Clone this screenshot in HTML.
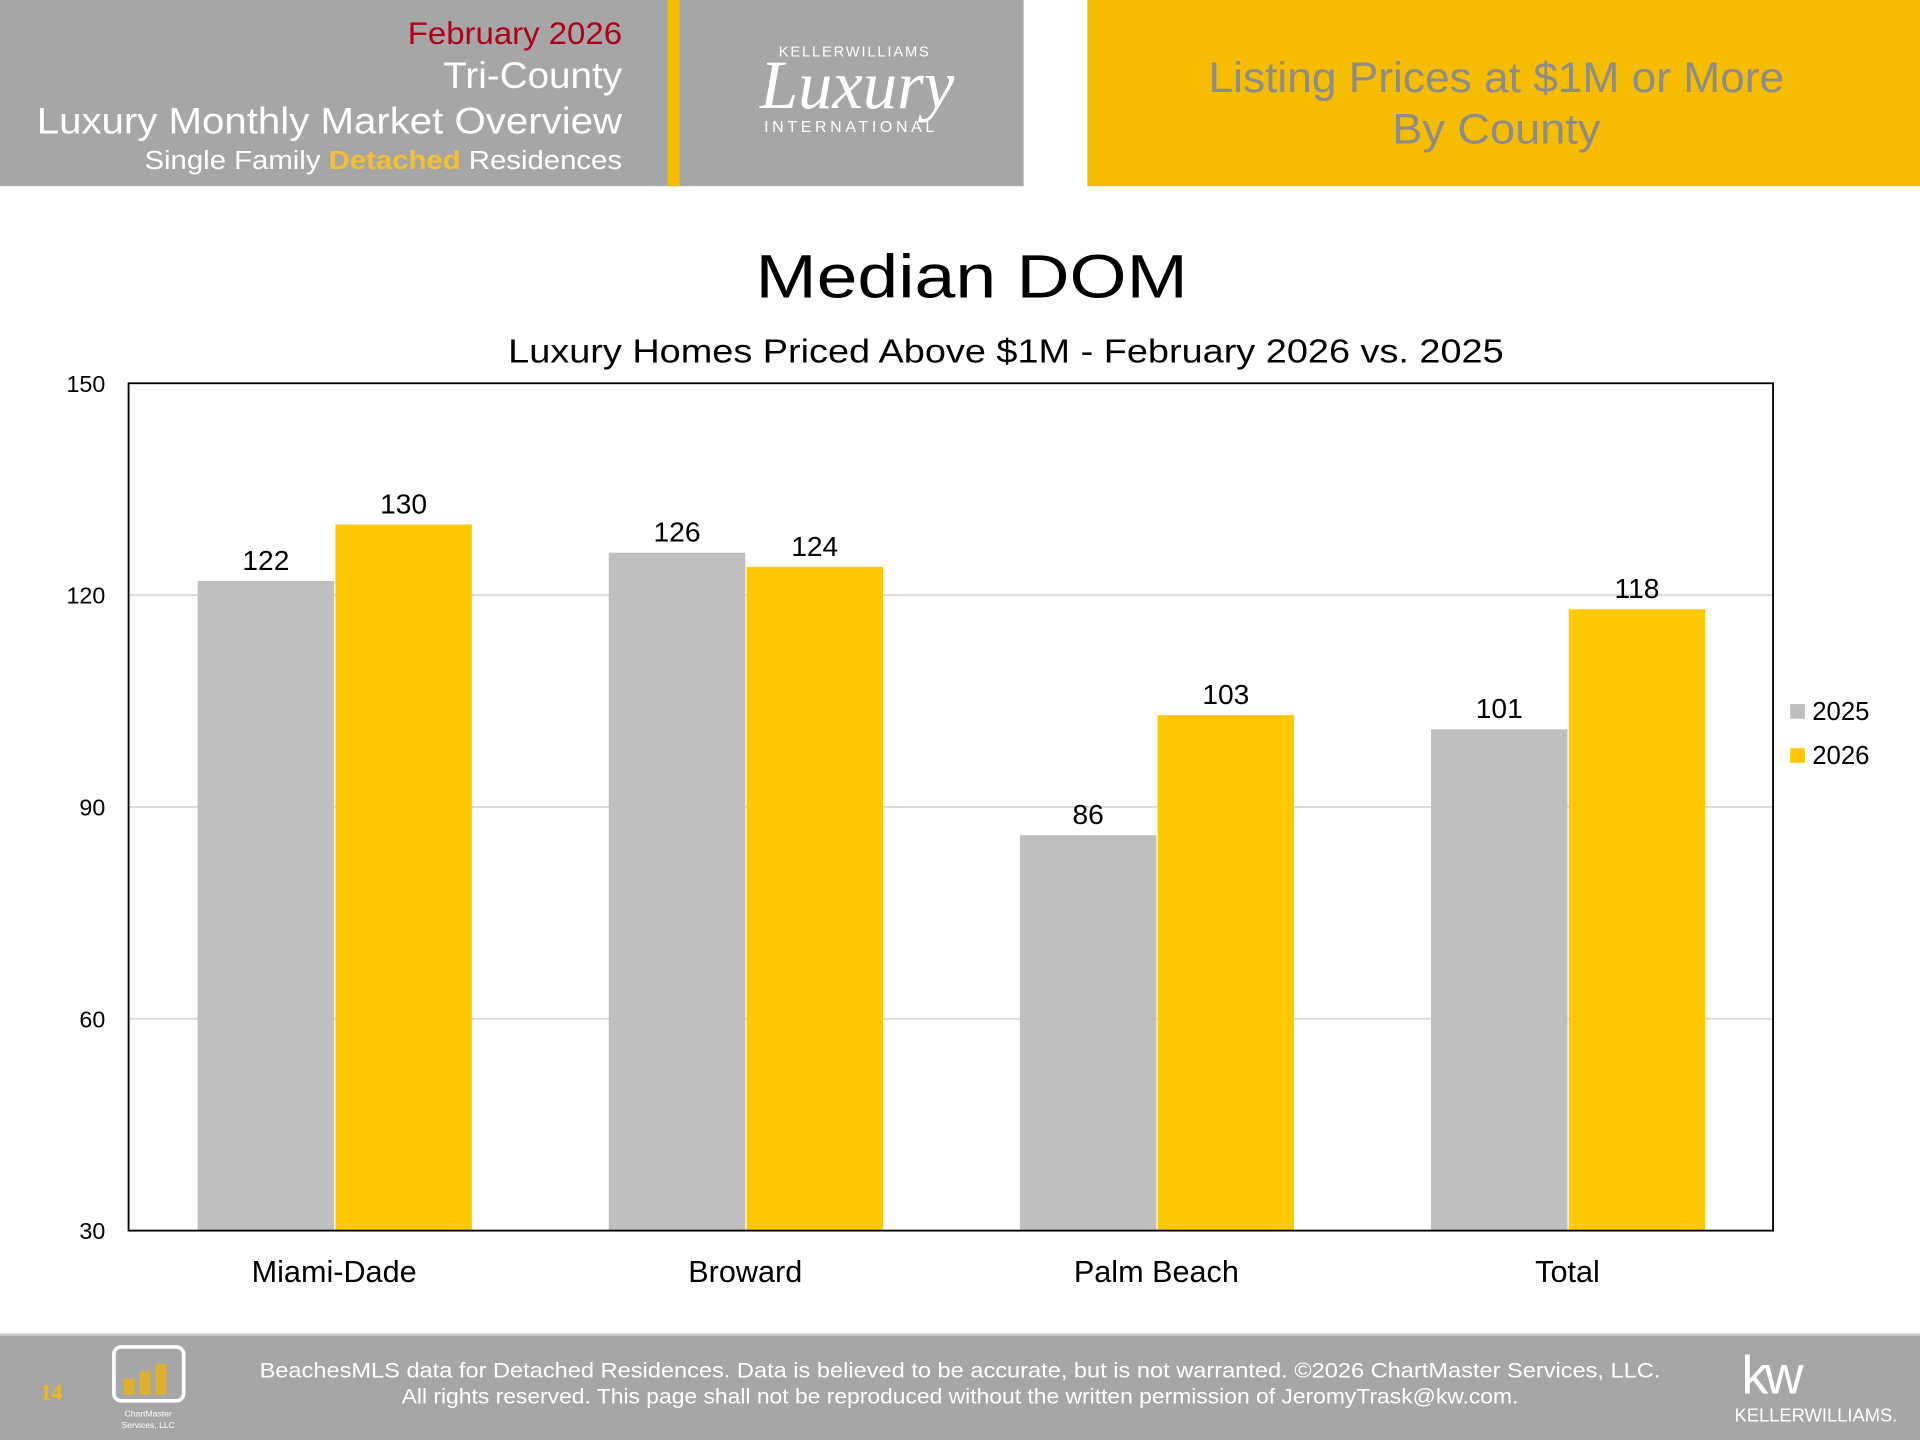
<!DOCTYPE html>
<html><head><meta charset="utf-8"><style>
html,body{margin:0;padding:0;background:#fff;}
svg{display:block;font-family:"Liberation Sans","DejaVu Sans",sans-serif;}
</style></head><body>
<svg width="1920" height="1440" viewBox="0 0 1568 1176" xmlns="http://www.w3.org/2000/svg">
<g>
<rect x="0" y="0" width="836" height="152" fill="#a6a6a6"/>
<rect x="545" y="0" width="10" height="152" fill="#f5bc00"/>
<rect x="888" y="0" width="680" height="152" fill="#f5bc00"/>
<text x="333" y="36" textLength="175" lengthAdjust="spacingAndGlyphs" font-size="26" fill="#b00018">February 2026</text>
<text x="362" y="72" textLength="146" lengthAdjust="spacingAndGlyphs" font-size="30" fill="#fff">Tri-County</text>
<text x="30" y="109" textLength="478" lengthAdjust="spacingAndGlyphs" font-size="30" fill="#fff">Luxury Monthly Market Overview</text>
<text x="118" y="138" textLength="390" lengthAdjust="spacingAndGlyphs" font-size="21" fill="#fff">Single Family <tspan font-weight="bold" fill="#f5c030">Detached</tspan> Residences</text>
<text x="698" y="46" text-anchor="middle" font-size="12" fill="#fff" letter-spacing="1.5">KELLERWILLIAMS</text>
<text x="700" y="88" text-anchor="middle" font-size="56" font-style="italic" font-family="Liberation Serif, serif" fill="#fff">Luxury</text>
<text x="695" y="108" text-anchor="middle" font-size="13" fill="#fff" letter-spacing="3">INTERNATIONAL</text>
<text x="987" y="75" textLength="470" lengthAdjust="spacingAndGlyphs" font-size="35" fill="#8c8c8c">Listing Prices at $1M or More</text>
<text x="1137" y="117" textLength="170" lengthAdjust="spacingAndGlyphs" font-size="35" fill="#8c8c8c">By County</text>
</g>
<text x="617" y="243" textLength="353" lengthAdjust="spacingAndGlyphs" font-size="50" fill="#000">Median DOM</text>
<text x="415" y="296" textLength="813" lengthAdjust="spacingAndGlyphs" font-size="27" fill="#000">Luxury Homes Priced Above $1M - February 2026 vs. 2025</text>
<g id="chart"></g>
<g>
<rect x="1462" y="575" width="12" height="12" fill="#bfbfbf"/>
<text x="1480" y="588" font-size="21" fill="#000">2025</text>
<rect x="1462" y="611" width="12" height="12" fill="#ffc800"/>
<text x="1480" y="624" font-size="21" fill="#000">2026</text>
</g>
<g>
<rect x="0" y="1090" width="1568" height="86" fill="#a6a6a6"/>
<rect x="0" y="1089" width="1568" height="2" fill="#c8c8c8"/>
<text x="42" y="1143" text-anchor="middle" font-size="18" font-weight="bold" font-family="Liberation Serif, serif" fill="#f5bc00">14</text>
<rect x="93" y="1100" width="57" height="44" rx="6" fill="none" stroke="#fff" stroke-width="3"/>
<rect x="101" y="1126" width="9" height="13" fill="#e0b030"/>
<rect x="114" y="1120" width="9" height="19" fill="#e0b030"/>
<rect x="127" y="1114" width="9" height="25" fill="#e0b030"/>
<text x="121" y="1157" text-anchor="middle" font-size="7" fill="#fff">ChartMaster</text>
<text x="121" y="1166" text-anchor="middle" font-size="7" fill="#fff">Services, LLC</text>
<text x="212" y="1125" textLength="1144" lengthAdjust="spacingAndGlyphs" font-size="17" fill="#fff">BeachesMLS data for Detached Residences.  Data is believed to be accurate, but is not warranted.   ©2026  ChartMaster Services, LLC.</text>
<text x="328" y="1146" textLength="912" lengthAdjust="spacingAndGlyphs" font-size="17" fill="#fff">All rights reserved. This page shall not be reproduced without the written permission of JeromyTrask@kw.com.</text>
<text x="1446" y="1138" text-anchor="middle" font-size="44" fill="#fff" letter-spacing="-3">kw</text>
<text x="1483" y="1161" text-anchor="middle" font-size="15" fill="#fff">KELLERWILLIAMS.</text>
</g>
</svg>
<script>
const categories = ["Miami-Dade","Broward","Palm Beach","Total"];
const values2025 = [122,126,86,101];
const values2026 = [130,124,103,118];
const yTicks = [30,60,90,120,150];
const NS="http://www.w3.org/2000/svg";
const L=105,R=1448,T=313,B=1005,yMin=30,yMax=150;
const y=v=>B-(v-yMin)/(yMax-yMin)*(B-T);
const gw=(R-L)/categories.length, bw=gw*0.332;
const x=i=>L+gw*(i+0.5);
const g=document.getElementById('chart');
function mk(tag,attrs,txt){const e=document.createElementNS(NS,tag);for(const k in attrs)e.setAttribute(k,attrs[k]);if(txt!==undefined)e.textContent=txt;g.appendChild(e);return e;}
yTicks.forEach(t=>{
  if(t>yMin&&t<yMax){const ln=mk('line',{x1:L,x2:R,y1:y(t),y2:y(t),stroke:'#d9d9d9','stroke-width':1.5});
  
  }
  const tx=mk('text',{x:86,y:y(t)+7,'text-anchor':'end','font-size':19,fill:'#000'},t);
  
  
});
categories.forEach((c,i)=>{
  const series=[[values2025[i],'#bfbfbf',x(i)-bw,'2025'],[values2026[i],'#ffc800',x(i)+1,'2026']];
  series.forEach(s=>{
    const r=mk('rect',{x:s[2],y:y(s[0]),width:bw,height:B-y(s[0]),fill:s[1]});
    
    
    const lb=mk('text',{x:s[2]+bw/2,y:y(s[0])-9,'text-anchor':'middle','font-size':23,fill:'#000'},s[0]);
    
    
  });
  const cl=mk('text',{x:x(i),y:1047,'text-anchor':'middle','font-size':25,fill:'#000'},c);
  
  
});
const fr=mk('rect',{x:L,y:T,width:R-L,height:B-T,fill:'none',stroke:'#000','stroke-width':1.5});


</script>
</body></html>
